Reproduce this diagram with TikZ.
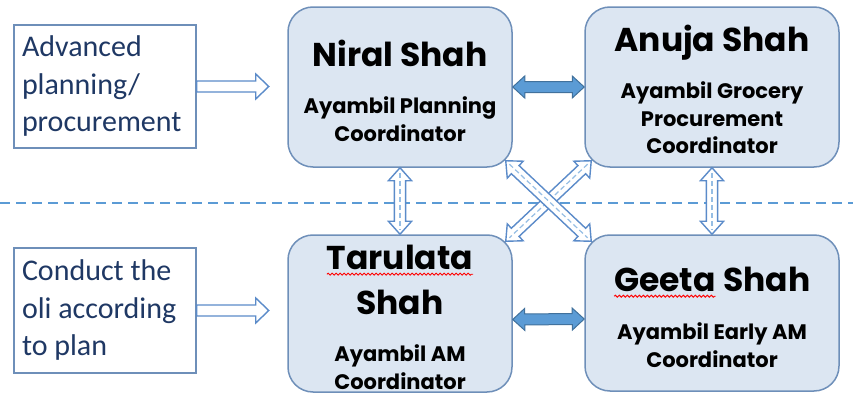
\documentclass[tikz,border=0pt]{standalone}
\usepackage{fontspec}
\setmainfont{Carlito}
\newfontfamily\gothic{Poppins}
\usetikzlibrary{calc,decorations.pathmorphing}
\definecolor{boxfill}{RGB}{220,230,242}
\definecolor{boxline}{RGB}{110,143,185}
\definecolor{navy}{RGB}{31,56,100}
\definecolor{arrowline}{RGB}{91,139,201}
\definecolor{arrowdash}{RGB}{150,190,228}
\definecolor{arrowblue}{RGB}{91,155,213}
\definecolor{arrowedge}{RGB}{65,113,156}
\definecolor{sepline}{RGB}{91,155,213}
\tikzset{
  person/.style={draw=boxline, fill=boxfill, rounded corners=12.5pt, line width=0.75pt, inner sep=0pt},
  inbox/.style={draw=boxline, fill=white, line width=0.75pt, text=navy, align=flush left, text width=83pt, inner sep=4pt,
    font=\fontsize{15}{18.75}\selectfont},
  who/.style={font=\gothic\bfseries\fontsize{16.5}{22.5}\selectfont, align=center, anchor=north, inner sep=0pt},
  role/.style={font=\gothic\bfseries\fontsize{10.5}{13.75}\selectfont, align=center, anchor=north, inner sep=0pt},
  hollow/.style={draw=arrowline, fill=white, line width=0.7pt},
  midline/.style={draw=arrowdash, line width=0.6pt, dash pattern=on 2.5pt off 1.5pt},
  bluearrow/.style={draw=arrowedge, fill=arrowblue, line width=0.5pt},
  separator/.style={draw=sepline, line width=0.6pt, dash pattern=on 5pt off 3pt},
  squiggle/.style={draw=red, line width=0.45pt, decorate, decoration={snake, amplitude=0.5pt, segment length=2pt}}
}
% red spell-check wave under a word
\newcommand{\misspelt}[1]{\tikz[baseline=(word.base)]{\node[rectangle, draw=none, fill=none, inner sep=0pt, outer sep=0pt, anchor=base] (word) {#1};
  \draw[squiggle] ([yshift=-2.2pt]word.base west) -- ([yshift=-2.2pt]word.base east);}}
% block arrow with two heads: style, from, to, shaft half, head half, head length
\newcommand{\dblarrow}[6]{
  \coordinate (p1) at ($(#2)!#6!(#3)$);
  \coordinate (p2) at ($(#3)!#6!(#2)$);
  \path[#1] (#2) -- ($(p1)!#5!90:(#3)$) -- ($(p1)!#4!90:(#3)$) -- ($(p2)!#4!-90:(#2)$) -- ($(p2)!#5!-90:(#2)$) -- (#3)
    -- ($(p2)!#5!90:(#2)$) -- ($(p2)!#4!90:(#2)$) -- ($(p1)!#4!-90:(#3)$) -- ($(p1)!#5!-90:(#3)$) -- cycle;
}
\newcommand{\hollowdbl}[2]{
  \dblarrow{hollow}{#1}{#2}{2.8pt}{5.8pt}{6.5pt}
  \draw[midline] ($(#1)!2.5pt!(#2)$) -- ($(#2)!2.5pt!(#1)$);
}
% block arrow with one head: from, to, shaft half, head half, head length
\newcommand{\onearrow}[5]{
  \coordinate (p2) at ($(#2)!#5!(#1)$);
  \path[hollow] ($(#1)!#3!90:(#2)$) -- ($(p2)!#3!-90:(#1)$) -- ($(p2)!#4!-90:(#1)$) -- (#2)
    -- ($(p2)!#4!90:(#1)$) -- ($(p2)!#3!90:(#1)$) -- ($(#1)!#3!-90:(#2)$) -- cycle;
}
\begin{document}
\begin{tikzpicture}[x=0.5pt,y=-0.5pt]
\useasboundingbox (0,0) rectangle (853,396);
\draw[separator] (0,203) -- (853,203);

% the four coordinators
\node[person, minimum width=112pt, minimum height=80pt] (niral) at (400,87) {};
\node[who] (niralname) at (400,40) {Niral Shah};
\node[role] (niralrole) at (400,96.5) {Ayambil Planning\\Coordinator};

\node[person, minimum width=127pt, minimum height=80pt] (anuja) at (712,87) {};
\node[who] (anujaname) at (712,25) {Anuja Shah};
\node[role] (anujarole) at (712,81.5) {Ayambil Grocery\\Procurement\\Coordinator};

\node[person, minimum width=112pt, minimum height=78.5pt] (tarulata) at (400,313.5) {};
\node[who] (tarulataname) at (400,245) {\misspelt{Tarulata}\\Shah};
\node[role] (tarulatarole) at (400,344.5) {Ayambil AM\\Coordinator};

\node[person, minimum width=127pt, minimum height=78pt] (geeta) at (712,313) {};
\node[who] (geetaname) at (712,267) {\misspelt{Geeta} Shah};
\node[role] (geetarole) at (712,322.5) {Ayambil Early AM\\Coordinator};

% inputs on the left
\node[inbox, minimum height=61.5pt] (advplan) at (105,86.5) {Advanced\\planning/\\procurement};
\node[inbox, minimum height=62.5pt] (conduct) at (105,310.5) {Conduct the\\oli according\\to plan};
\coordinate (advtip) at ($(advplan.east)+(72,0)$);
\coordinate (contip) at ($(conduct.east)+(72,0)$);
\onearrow{advplan.east}{advtip}{2.75pt}{6.25pt}{6.5pt}
\onearrow{conduct.east}{contip}{2.75pt}{6.25pt}{6.5pt}

% links between coordinators
\dblarrow{bluearrow}{niral.east}{anuja.west}{2.75pt}{5.5pt}{6pt}
\coordinate (tarright) at ([yshift=-3pt]tarulata.east);
\coordinate (geeleft) at ([yshift=-3pt]geeta.west);
\dblarrow{bluearrow}{tarright}{geeleft}{2.75pt}{5.5pt}{6pt}
\hollowdbl{niral.south}{tarulata.north}
\hollowdbl{anuja.south}{geeta.north}
\coordinate (nse) at ($(niral.south east)+(-7,-7)$);
\coordinate (gnw) at ($(geeta.north west)+(7,7)$);
\coordinate (asw) at ($(anuja.south west)+(7,-7)$);
\coordinate (tne) at ($(tarulata.north east)+(-7,7)$);
\hollowdbl{asw}{tne}
\hollowdbl{nse}{gnw}
\end{tikzpicture}
\end{document}
